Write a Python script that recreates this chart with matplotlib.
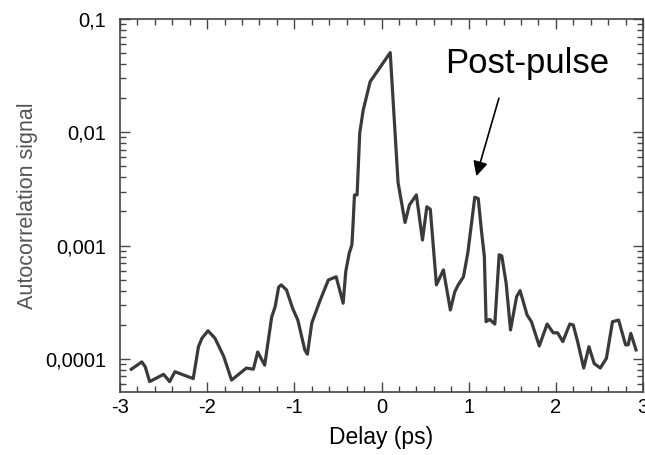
import matplotlib
matplotlib.use('Agg')
import matplotlib.pyplot as plt
from matplotlib.ticker import MultipleLocator, LogLocator, NullFormatter

# Autocorrelation trace (delay in ps, signal on log scale)
delay = [-2.87, -2.75, -2.71, -2.66, -2.50, -2.43, -2.37, -2.16, -2.10, -2.06,
         -1.99, -1.91, -1.81, -1.72, -1.55, -1.47, -1.42, -1.34, -1.26, -1.22,
         -1.18, -1.15, -1.09, -1.02, -0.96, -0.88, -0.85, -0.80, -0.71, -0.61,
         -0.52, -0.44, -0.41, -0.37, -0.34, -0.33, -0.31, -0.28, -0.25, -0.21,
         -0.13, 0.10, 0.19, 0.27, 0.32, 0.40, 0.47, 0.52, 0.56, 0.63,
         0.71, 0.79, 0.84, 0.88, 0.94, 0.99, 1.07, 1.11, 1.15, 1.18,
         1.20, 1.24, 1.30, 1.35, 1.38, 1.43, 1.48, 1.55, 1.59, 1.67,
         1.72, 1.81, 1.90, 1.97, 2.02, 2.08, 2.16, 2.20, 2.25, 2.32,
         2.38, 2.44, 2.51, 2.58, 2.65, 2.72, 2.80, 2.83, 2.86, 2.92]
signal = [8.1e-5, 9.4e-5, 8.5e-5, 6.3e-5, 7.3e-5, 6.3e-5, 7.7e-5, 6.7e-5, 1.28e-4, 1.52e-4,
          1.77e-4, 1.52e-4, 1.05e-4, 6.5e-5, 8.3e-5, 8.1e-5, 1.15e-4, 8.8e-5, 2.34e-4, 2.89e-4,
          4.3e-4, 4.5e-4, 4.06e-4, 2.8e-4, 2.2e-4, 1.2e-4, 1.1e-4, 2.07e-4, 3.2e-4, 4.97e-4,
          5.3e-4, 3.1e-4, 5.9e-4, 8.6e-4, 1.01e-3, 1.37e-3, 2.8e-3, 2.8e-3, 9.8e-3, 1.57e-2,
          2.8e-2, 5.05e-2, 3.6e-3, 1.6e-3, 2.28e-3, 2.8e-3, 1.12e-3, 2.2e-3, 2.09e-3, 4.5e-4,
          6.1e-4, 2.7e-4, 3.9e-4, 4.5e-4, 5.3e-4, 8.6e-4, 2.67e-3, 2.6e-3, 1.28e-3, 8.0e-4,
          2.13e-4, 2.23e-4, 2.03e-4, 8.3e-4, 8.1e-4, 4.65e-4, 1.8e-4, 3.54e-4, 4.0e-4, 2.44e-4,
          2.13e-4, 1.3e-4, 2.03e-4, 1.7e-4, 1.7e-4, 1.42e-4, 2.03e-4, 1.99e-4, 1.42e-4, 8.3e-5,
          1.28e-4, 9.1e-5, 8.3e-5, 1.01e-4, 2.13e-4, 2.2e-4, 1.33e-4, 1.33e-4, 1.68e-4, 1.2e-4]

y_ticks = [1e-4, 1e-3, 1e-2, 1e-1]
y_tick_labels = ['0,0001', '0,001', '0,01', '0,1']
x_ticks = [-3, -2, -1, 0, 1, 2, 3]

plt.rcParams['font.family'] = ['Liberation Sans', 'DejaVu Sans']

fig = plt.figure(figsize=(6.45, 4.55), dpi=100)
ax = fig.add_axes([120 / 645, 63 / 455, 523 / 645, 373 / 455])

ax.plot(delay, signal, color='#3a3a3a', lw=2.3, solid_joinstyle='round')
ax.set_yscale('log')
ax.set_xlim(-3, 3)
ax.set_ylim(5.1e-5, 0.1)

# ticks on every side, pointing in
ax.set_xticks(x_ticks)
ax.set_xticklabels([str(t) for t in x_ticks])
ax.xaxis.set_minor_locator(MultipleLocator(0.2))
ax.set_yticks(y_ticks)
ax.set_yticklabels(y_tick_labels)
ax.yaxis.set_minor_locator(LogLocator(base=10, subs=range(2, 10), numticks=20))
ax.yaxis.set_minor_formatter(NullFormatter())
ax.tick_params(which='both', direction='in', top=True, right=True, colors='#444444',
               labelcolor='black', width=1)
ax.tick_params(which='major', length=7, labelsize=14.5)
ax.tick_params(which='minor', length=4)
ax.tick_params(axis='y', pad=10)
ax.tick_params(axis='x', pad=4)
for s in ax.spines.values():
    s.set_color('#444444')
    s.set_linewidth(1.2)

ax.set_xlabel('Delay (ps)', fontsize=16.5, labelpad=7)
ax.set_ylabel('Autocorrelation signal', fontsize=15.5, color='#555555', labelpad=5)

# mark the post-pulse
ax.text(0.725, 0.0333, 'Post-pulse', fontsize=25, ha='left', va='baseline')
ax.annotate('', xy=(1.088, 4.1e-3), xytext=(1.347, 0.02),
            arrowprops=dict(arrowstyle='-|>', color='black', lw=1.2,
                            mutation_scale=22, shrinkA=0, shrinkB=0))

fig.savefig('out.png', dpi=100)
